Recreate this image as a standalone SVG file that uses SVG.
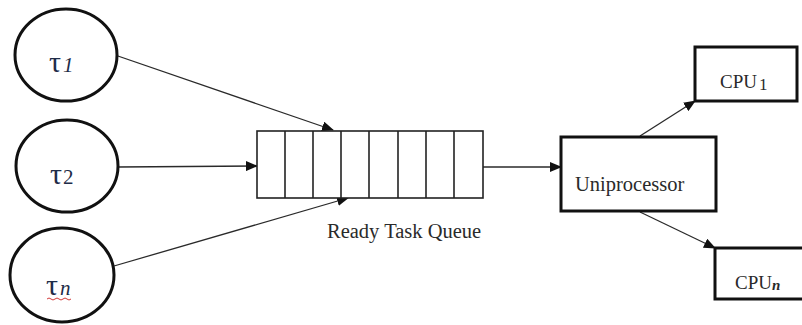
<svg xmlns="http://www.w3.org/2000/svg" width="802" height="325" viewBox="0 0 802 325">
  <style>
    .task { fill: #ffffff; stroke: #111111; stroke-width: 3; }
    .tau { font-family: "Liberation Serif", "DejaVu Serif", serif; font-size: 30px; fill: #1e2c48; }
    .idx { font-family: "Liberation Serif", "DejaVu Serif", serif; font-style: italic; font-size: 21px; fill: #1e2c48; }
    .cell { fill: #ffffff; stroke: #222222; stroke-width: 1.6; }
    .box { fill: #ffffff; stroke: #111111; stroke-width: 3; }
    .label { font-family: "Liberation Serif", "DejaVu Serif", serif; font-size: 20.5px; fill: #2a2a2a; }
    .link { fill: none; stroke: #2a2a2a; stroke-width: 1.3; marker-end: url(#arrow); }
  </style>
  <defs>
    <marker id="arrow" markerWidth="12" markerHeight="10" refX="11" refY="5" orient="auto" markerUnits="userSpaceOnUse">
      <path d="M0,0 L12,5 L0,10 Z" fill="#111111"/>
    </marker>
  </defs>

  <rect width="802" height="325" fill="#ffffff"/>

  <!-- connectors -->
  <g id="connectors">
    <line class="link" x1="115" y1="55" x2="333" y2="130"/>
    <line class="link" x1="118" y1="167" x2="257" y2="166"/>
    <line class="link" x1="114" y1="266" x2="348" y2="198"/>
    <line class="link" x1="483" y1="167" x2="561" y2="167"/>
    <line class="link" x1="640" y1="136" x2="695" y2="101"/>
    <line class="link" x1="640" y1="212" x2="715" y2="248"/>
  </g>

  <!-- tasks -->
  <g id="task1">
    <ellipse class="task" cx="66" cy="55" rx="51" ry="46"/>
    <text class="tau" x="49" y="72">τ</text>
    <text class="idx" x="63" y="72">1</text>
  </g>
  <g id="task2">
    <ellipse class="task" cx="67" cy="166" rx="51" ry="46"/>
    <text class="tau" x="50" y="184">τ</text>
    <text class="tau" x="63" y="184" style="font-size:21px">2</text>
  </g>
  <g id="taskn">
    <ellipse class="task" cx="62" cy="275" rx="52" ry="47"/>
    <text class="tau" x="46" y="295">τ</text>
    <text class="idx" x="60" y="295">n</text>
    <path d="M47,299 q2,-2 4,0 t4,0 t4,0 t4,0 t4,0 t4,0" fill="none" stroke="#d23a3a" stroke-width="1"/>
  </g>

  <!-- ready queue -->
  <g id="queue">
    <rect class="cell" x="257" y="131" width="226" height="67"/>
    <line class="cell" x1="285" y1="131" x2="285" y2="198"/>
    <line class="cell" x1="313" y1="131" x2="313" y2="198"/>
    <line class="cell" x1="341" y1="131" x2="341" y2="198"/>
    <line class="cell" x1="369" y1="131" x2="369" y2="198"/>
    <line class="cell" x1="398" y1="131" x2="398" y2="198"/>
    <line class="cell" x1="426" y1="131" x2="426" y2="198"/>
    <line class="cell" x1="454" y1="131" x2="454" y2="198"/>
    <text class="label" x="327" y="238">Ready Task Queue</text>
  </g>

  <!-- processor -->
  <g id="uniprocessor">
    <rect class="box" x="561" y="137" width="155" height="74"/>
    <text class="label" x="575" y="191">Uniprocessor</text>
  </g>

  <!-- cpus -->
  <g id="cpu1">
    <rect class="box" x="695" y="47" width="102" height="54"/>
    <text class="label" x="720" y="88" style="font-size:19px">CPU<tspan dx="2" dy="2" style="font-size:17px">1</tspan></text>
  </g>
  <g id="cpun">
    <rect class="box" x="715" y="248" width="90" height="51"/>
    <text class="label" x="735" y="289" style="font-size:19px">CPU<tspan dy="1" style="font-size:15px;font-style:italic;font-weight:bold">n</tspan></text>
  </g>
</svg>
